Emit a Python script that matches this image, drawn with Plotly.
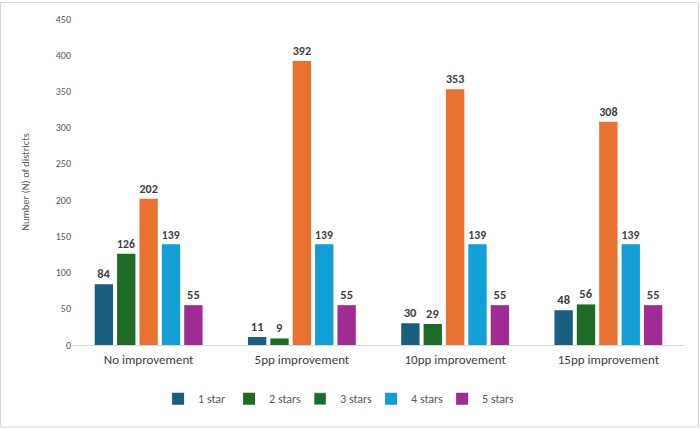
import plotly.graph_objects as go

categories = ["No improvement", "5pp improvement", "10pp improvement", "15pp improvement"]
series_names = ["1 star", "2 stars", "3 stars", "4 stars", "5 stars"]
one_star = [84, 11, 30, 48]
two_stars = [126, 9, 29, 56]
three_stars = [202, 392, 353, 308]
four_stars = [139, 139, 139, 139]
five_stars = [55, 55, 55, 55]
y_ticks = [0, 50, 100, 150, 200, 250, 300, 350, 400, 450]

colors = ["#1a5e80", "#1e6b27", "#e97132", "#139fd6", "#a02b93"]
legend_colors = ["#1a5e80", "#1e6b27", "#1e6b27", "#139fd6", "#a02b93"]
values = [one_star, two_stars, three_stars, four_stars, five_stars]

FONT = "Carlito, Calibri, 'Open Sans', sans-serif"
W, H = 700, 429
L, R, T, B = 72, 15, 17, 84

fig = go.Figure()
for i, (name, vals) in enumerate(zip(series_names, values)):
    if i == 2:
        # bars in orange, legend entry (as in the original) in green
        fig.add_trace(go.Bar(x=categories, y=vals, name=name, showlegend=False,
                             marker=dict(color=colors[i], line=dict(width=0)),
                             text=vals, textposition="outside",
                             textfont=dict(family=FONT, size=12.5, color="#404040"),
                             texttemplate="<b>%{y}</b>", cliponaxis=False))
        fig.add_trace(go.Bar(x=categories, y=[None] * len(categories), name=name,
                             marker=dict(color=legend_colors[i]), xaxis="x2",
                             hoverinfo="skip"))
    else:
        fig.add_trace(go.Bar(x=categories, y=vals, name=name,
                             marker=dict(color=colors[i], line=dict(width=0)),
                             text=vals, textposition="outside",
                             textfont=dict(family=FONT, size=12.5, color="#404040"),
                             texttemplate="<b>%{y}</b>", cliponaxis=False))

pw = W - L - R
ph = H - T - B
fig.update_layout(
    width=W, height=H,
    margin=dict(l=L, r=R, t=T, b=B),
    paper_bgcolor="white", plot_bgcolor="white",
    barmode="group", bargap=0.27, bargroupgap=0.18,
    font=dict(family=FONT, color="#595959"),
    showlegend=True,
    legend=dict(orientation="h", x=0.43, xanchor="center", y=-0.165, yanchor="middle",
                itemwidth=30, entrywidth=26, entrywidthmode="pixels",
                font=dict(family=FONT, size=12, color="#595959"), traceorder="normal"),
    xaxis=dict(showgrid=False, showline=True, linecolor="#d9d9d9", linewidth=1,
               ticks="outside", ticklen=2, tickcolor="rgba(0,0,0,0)",
               tickfont=dict(family=FONT, size=13, color="#404040")),
    xaxis2=dict(overlaying="x", visible=False, matches=None),
    yaxis=dict(range=[0, 450], tickvals=y_ticks, showgrid=False, zeroline=False,
               showline=False, ticks="", tickfont=dict(family=FONT, size=10, color="#595959"),
               title=dict(text="Number (N) of districts", font=dict(family=FONT, size=10.5, color="#595959"),
                          standoff=24)),
    shapes=[dict(type="rect", xref="paper", yref="paper",
                 x0=-(L - 0.5) / pw, x1=1 + (R - 1.5) / pw, y0=-(B - 1.5) / ph, y1=1 + (T - 0.5) / ph,
                 line=dict(color="#d9d9d9", width=1), fillcolor="rgba(0,0,0,0)")],
)
fig.write_html("out.html", config={"displayModeBar": False},
               post_script="document.body.style.margin='0';")
